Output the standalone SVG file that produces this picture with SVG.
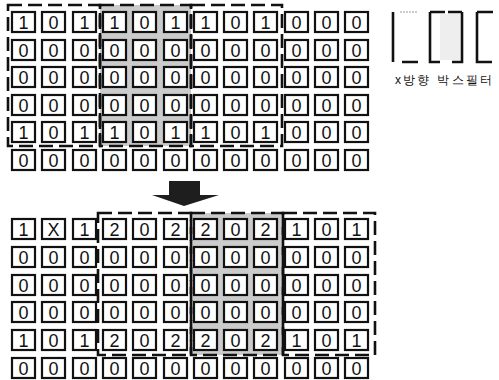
<svg xmlns="http://www.w3.org/2000/svg" width="499" height="380" viewBox="0 0 499 380">
<style>
.c{fill:#fff;stroke:#111;stroke-width:2.2}
text{font-family:"Liberation Sans",Arial,sans-serif;fill:#111}
.n{font-size:18px;text-anchor:middle}
.win{fill:none;stroke:#111;stroke-width:2.6;stroke-dasharray:14 6}
.shade{fill:#cbcbcb;stroke:#111;stroke-width:2.6;stroke-dasharray:14 6}
.k{stroke:#111;stroke-width:2.6;fill:none}
.kl{stroke:#999;stroke-width:1.2;fill:none;stroke-dasharray:2 1}
</style>
<defs>
<symbol id="cell" overflow="visible"><rect class="c" x="0" y="0" width="23" height="20"/></symbol>
</defs>
<rect width="499" height="380" fill="#fff"/>
<g id="windows">
<rect class="shade" x="100" y="5" width="91" height="141"/>
<rect class="win" x="8" y="5" width="92" height="141"/>
<rect class="win" x="191" y="5" width="91" height="141"/>
<rect class="shade" x="191" y="213" width="92" height="142"/>
<rect class="win" x="98" y="213" width="93" height="142"/>
<rect class="win" x="283" y="213" width="92" height="142"/>
</g>
<g id="top-grid">
<g id="t1">
<g transform="translate(12,12)"><use href="#cell"/><text class="n" x="11.5" y="16.5">1</text></g>
<g transform="translate(42,12)"><use href="#cell"/><text class="n" x="11.5" y="16.5">0</text></g>
<g transform="translate(73,12)"><use href="#cell"/><text class="n" x="11.5" y="16.5">1</text></g>
<g transform="translate(103,12)"><use href="#cell"/><text class="n" x="11.5" y="16.5">1</text></g>
<g transform="translate(133,12)"><use href="#cell"/><text class="n" x="11.5" y="16.5">0</text></g>
<g transform="translate(164,12)"><use href="#cell"/><text class="n" x="11.5" y="16.5">1</text></g>
<g transform="translate(194,12)"><use href="#cell"/><text class="n" x="11.5" y="16.5">1</text></g>
<g transform="translate(224,12)"><use href="#cell"/><text class="n" x="11.5" y="16.5">0</text></g>
<g transform="translate(254,12)"><use href="#cell"/><text class="n" x="11.5" y="16.5">1</text></g>
<g transform="translate(285,12)"><use href="#cell"/><text class="n" x="11.5" y="16.5">0</text></g>
<g transform="translate(315,12)"><use href="#cell"/><text class="n" x="11.5" y="16.5">0</text></g>
<g transform="translate(345,12)"><use href="#cell"/><text class="n" x="11.5" y="16.5">0</text></g>
</g>
<g id="t2">
<g transform="translate(12,40)"><use href="#cell"/><text class="n" x="11.5" y="16.5">0</text></g>
<g transform="translate(42,40)"><use href="#cell"/><text class="n" x="11.5" y="16.5">0</text></g>
<g transform="translate(73,40)"><use href="#cell"/><text class="n" x="11.5" y="16.5">0</text></g>
<g transform="translate(103,40)"><use href="#cell"/><text class="n" x="11.5" y="16.5">0</text></g>
<g transform="translate(133,40)"><use href="#cell"/><text class="n" x="11.5" y="16.5">0</text></g>
<g transform="translate(164,40)"><use href="#cell"/><text class="n" x="11.5" y="16.5">0</text></g>
<g transform="translate(194,40)"><use href="#cell"/><text class="n" x="11.5" y="16.5">0</text></g>
<g transform="translate(224,40)"><use href="#cell"/><text class="n" x="11.5" y="16.5">0</text></g>
<g transform="translate(254,40)"><use href="#cell"/><text class="n" x="11.5" y="16.5">0</text></g>
<g transform="translate(285,40)"><use href="#cell"/><text class="n" x="11.5" y="16.5">0</text></g>
<g transform="translate(315,40)"><use href="#cell"/><text class="n" x="11.5" y="16.5">0</text></g>
<g transform="translate(345,40)"><use href="#cell"/><text class="n" x="11.5" y="16.5">0</text></g>
</g>
<g id="t3">
<g transform="translate(12,67)"><use href="#cell"/><text class="n" x="11.5" y="16.5">0</text></g>
<g transform="translate(42,67)"><use href="#cell"/><text class="n" x="11.5" y="16.5">0</text></g>
<g transform="translate(73,67)"><use href="#cell"/><text class="n" x="11.5" y="16.5">0</text></g>
<g transform="translate(103,67)"><use href="#cell"/><text class="n" x="11.5" y="16.5">0</text></g>
<g transform="translate(133,67)"><use href="#cell"/><text class="n" x="11.5" y="16.5">0</text></g>
<g transform="translate(164,67)"><use href="#cell"/><text class="n" x="11.5" y="16.5">0</text></g>
<g transform="translate(194,67)"><use href="#cell"/><text class="n" x="11.5" y="16.5">0</text></g>
<g transform="translate(224,67)"><use href="#cell"/><text class="n" x="11.5" y="16.5">0</text></g>
<g transform="translate(254,67)"><use href="#cell"/><text class="n" x="11.5" y="16.5">0</text></g>
<g transform="translate(285,67)"><use href="#cell"/><text class="n" x="11.5" y="16.5">0</text></g>
<g transform="translate(315,67)"><use href="#cell"/><text class="n" x="11.5" y="16.5">0</text></g>
<g transform="translate(345,67)"><use href="#cell"/><text class="n" x="11.5" y="16.5">0</text></g>
</g>
<g id="t4">
<g transform="translate(12,95)"><use href="#cell"/><text class="n" x="11.5" y="16.5">0</text></g>
<g transform="translate(42,95)"><use href="#cell"/><text class="n" x="11.5" y="16.5">0</text></g>
<g transform="translate(73,95)"><use href="#cell"/><text class="n" x="11.5" y="16.5">0</text></g>
<g transform="translate(103,95)"><use href="#cell"/><text class="n" x="11.5" y="16.5">0</text></g>
<g transform="translate(133,95)"><use href="#cell"/><text class="n" x="11.5" y="16.5">0</text></g>
<g transform="translate(164,95)"><use href="#cell"/><text class="n" x="11.5" y="16.5">0</text></g>
<g transform="translate(194,95)"><use href="#cell"/><text class="n" x="11.5" y="16.5">0</text></g>
<g transform="translate(224,95)"><use href="#cell"/><text class="n" x="11.5" y="16.5">0</text></g>
<g transform="translate(254,95)"><use href="#cell"/><text class="n" x="11.5" y="16.5">0</text></g>
<g transform="translate(285,95)"><use href="#cell"/><text class="n" x="11.5" y="16.5">0</text></g>
<g transform="translate(315,95)"><use href="#cell"/><text class="n" x="11.5" y="16.5">0</text></g>
<g transform="translate(345,95)"><use href="#cell"/><text class="n" x="11.5" y="16.5">0</text></g>
</g>
<g id="t5">
<g transform="translate(12,122)"><use href="#cell"/><text class="n" x="11.5" y="16.5">1</text></g>
<g transform="translate(42,122)"><use href="#cell"/><text class="n" x="11.5" y="16.5">0</text></g>
<g transform="translate(73,122)"><use href="#cell"/><text class="n" x="11.5" y="16.5">1</text></g>
<g transform="translate(103,122)"><use href="#cell"/><text class="n" x="11.5" y="16.5">1</text></g>
<g transform="translate(133,122)"><use href="#cell"/><text class="n" x="11.5" y="16.5">0</text></g>
<g transform="translate(164,122)"><use href="#cell"/><text class="n" x="11.5" y="16.5">1</text></g>
<g transform="translate(194,122)"><use href="#cell"/><text class="n" x="11.5" y="16.5">1</text></g>
<g transform="translate(224,122)"><use href="#cell"/><text class="n" x="11.5" y="16.5">0</text></g>
<g transform="translate(254,122)"><use href="#cell"/><text class="n" x="11.5" y="16.5">1</text></g>
<g transform="translate(285,122)"><use href="#cell"/><text class="n" x="11.5" y="16.5">0</text></g>
<g transform="translate(315,122)"><use href="#cell"/><text class="n" x="11.5" y="16.5">0</text></g>
<g transform="translate(345,122)"><use href="#cell"/><text class="n" x="11.5" y="16.5">0</text></g>
</g>
<g id="t6">
<g transform="translate(12,150)"><use href="#cell"/><text class="n" x="11.5" y="16.5">0</text></g>
<g transform="translate(42,150)"><use href="#cell"/><text class="n" x="11.5" y="16.5">0</text></g>
<g transform="translate(73,150)"><use href="#cell"/><text class="n" x="11.5" y="16.5">0</text></g>
<g transform="translate(103,150)"><use href="#cell"/><text class="n" x="11.5" y="16.5">0</text></g>
<g transform="translate(133,150)"><use href="#cell"/><text class="n" x="11.5" y="16.5">0</text></g>
<g transform="translate(164,150)"><use href="#cell"/><text class="n" x="11.5" y="16.5">0</text></g>
<g transform="translate(194,150)"><use href="#cell"/><text class="n" x="11.5" y="16.5">0</text></g>
<g transform="translate(224,150)"><use href="#cell"/><text class="n" x="11.5" y="16.5">0</text></g>
<g transform="translate(254,150)"><use href="#cell"/><text class="n" x="11.5" y="16.5">0</text></g>
<g transform="translate(285,150)"><use href="#cell"/><text class="n" x="11.5" y="16.5">0</text></g>
<g transform="translate(315,150)"><use href="#cell"/><text class="n" x="11.5" y="16.5">0</text></g>
<g transform="translate(345,150)"><use href="#cell"/><text class="n" x="11.5" y="16.5">0</text></g>
</g>
</g>
<g id="connectors">
<polygon id="arrow" points="169,181 200,181 200,195 219,195 184,206 152,195 169,195" fill="#1e1e1e"/>
</g>
<g id="bottom-grid">
<g id="b1">
<g transform="translate(12,219)"><use href="#cell"/><text class="n" x="11.5" y="16.5">1</text></g>
<g transform="translate(42,219)"><use href="#cell"/><text class="n" x="11.5" y="16.5">X</text></g>
<g transform="translate(73,219)"><use href="#cell"/><text class="n" x="11.5" y="16.5">1</text></g>
<g transform="translate(103,219)"><use href="#cell"/><text class="n" x="11.5" y="16.5">2</text></g>
<g transform="translate(133,219)"><use href="#cell"/><text class="n" x="11.5" y="16.5">0</text></g>
<g transform="translate(164,219)"><use href="#cell"/><text class="n" x="11.5" y="16.5">2</text></g>
<g transform="translate(194,219)"><use href="#cell"/><text class="n" x="11.5" y="16.5">2</text></g>
<g transform="translate(224,219)"><use href="#cell"/><text class="n" x="11.5" y="16.5">0</text></g>
<g transform="translate(254,219)"><use href="#cell"/><text class="n" x="11.5" y="16.5">2</text></g>
<g transform="translate(285,219)"><use href="#cell"/><text class="n" x="11.5" y="16.5">1</text></g>
<g transform="translate(315,219)"><use href="#cell"/><text class="n" x="11.5" y="16.5">0</text></g>
<g transform="translate(345,219)"><use href="#cell"/><text class="n" x="11.5" y="16.5">1</text></g>
</g>
<g id="b2">
<g transform="translate(12,247)"><use href="#cell"/><text class="n" x="11.5" y="16.5">0</text></g>
<g transform="translate(42,247)"><use href="#cell"/><text class="n" x="11.5" y="16.5">0</text></g>
<g transform="translate(73,247)"><use href="#cell"/><text class="n" x="11.5" y="16.5">0</text></g>
<g transform="translate(103,247)"><use href="#cell"/><text class="n" x="11.5" y="16.5">0</text></g>
<g transform="translate(133,247)"><use href="#cell"/><text class="n" x="11.5" y="16.5">0</text></g>
<g transform="translate(164,247)"><use href="#cell"/><text class="n" x="11.5" y="16.5">0</text></g>
<g transform="translate(194,247)"><use href="#cell"/><text class="n" x="11.5" y="16.5">0</text></g>
<g transform="translate(224,247)"><use href="#cell"/><text class="n" x="11.5" y="16.5">0</text></g>
<g transform="translate(254,247)"><use href="#cell"/><text class="n" x="11.5" y="16.5">0</text></g>
<g transform="translate(285,247)"><use href="#cell"/><text class="n" x="11.5" y="16.5">0</text></g>
<g transform="translate(315,247)"><use href="#cell"/><text class="n" x="11.5" y="16.5">0</text></g>
<g transform="translate(345,247)"><use href="#cell"/><text class="n" x="11.5" y="16.5">0</text></g>
</g>
<g id="b3">
<g transform="translate(12,275)"><use href="#cell"/><text class="n" x="11.5" y="16.5">0</text></g>
<g transform="translate(42,275)"><use href="#cell"/><text class="n" x="11.5" y="16.5">0</text></g>
<g transform="translate(73,275)"><use href="#cell"/><text class="n" x="11.5" y="16.5">0</text></g>
<g transform="translate(103,275)"><use href="#cell"/><text class="n" x="11.5" y="16.5">0</text></g>
<g transform="translate(133,275)"><use href="#cell"/><text class="n" x="11.5" y="16.5">0</text></g>
<g transform="translate(164,275)"><use href="#cell"/><text class="n" x="11.5" y="16.5">0</text></g>
<g transform="translate(194,275)"><use href="#cell"/><text class="n" x="11.5" y="16.5">0</text></g>
<g transform="translate(224,275)"><use href="#cell"/><text class="n" x="11.5" y="16.5">0</text></g>
<g transform="translate(254,275)"><use href="#cell"/><text class="n" x="11.5" y="16.5">0</text></g>
<g transform="translate(285,275)"><use href="#cell"/><text class="n" x="11.5" y="16.5">0</text></g>
<g transform="translate(315,275)"><use href="#cell"/><text class="n" x="11.5" y="16.5">0</text></g>
<g transform="translate(345,275)"><use href="#cell"/><text class="n" x="11.5" y="16.5">0</text></g>
</g>
<g id="b4">
<g transform="translate(12,302)"><use href="#cell"/><text class="n" x="11.5" y="16.5">0</text></g>
<g transform="translate(42,302)"><use href="#cell"/><text class="n" x="11.5" y="16.5">0</text></g>
<g transform="translate(73,302)"><use href="#cell"/><text class="n" x="11.5" y="16.5">0</text></g>
<g transform="translate(103,302)"><use href="#cell"/><text class="n" x="11.5" y="16.5">0</text></g>
<g transform="translate(133,302)"><use href="#cell"/><text class="n" x="11.5" y="16.5">0</text></g>
<g transform="translate(164,302)"><use href="#cell"/><text class="n" x="11.5" y="16.5">0</text></g>
<g transform="translate(194,302)"><use href="#cell"/><text class="n" x="11.5" y="16.5">0</text></g>
<g transform="translate(224,302)"><use href="#cell"/><text class="n" x="11.5" y="16.5">0</text></g>
<g transform="translate(254,302)"><use href="#cell"/><text class="n" x="11.5" y="16.5">0</text></g>
<g transform="translate(285,302)"><use href="#cell"/><text class="n" x="11.5" y="16.5">0</text></g>
<g transform="translate(315,302)"><use href="#cell"/><text class="n" x="11.5" y="16.5">0</text></g>
<g transform="translate(345,302)"><use href="#cell"/><text class="n" x="11.5" y="16.5">0</text></g>
</g>
<g id="b5">
<g transform="translate(12,330)"><use href="#cell"/><text class="n" x="11.5" y="16.5">1</text></g>
<g transform="translate(42,330)"><use href="#cell"/><text class="n" x="11.5" y="16.5">0</text></g>
<g transform="translate(73,330)"><use href="#cell"/><text class="n" x="11.5" y="16.5">1</text></g>
<g transform="translate(103,330)"><use href="#cell"/><text class="n" x="11.5" y="16.5">2</text></g>
<g transform="translate(133,330)"><use href="#cell"/><text class="n" x="11.5" y="16.5">0</text></g>
<g transform="translate(164,330)"><use href="#cell"/><text class="n" x="11.5" y="16.5">2</text></g>
<g transform="translate(194,330)"><use href="#cell"/><text class="n" x="11.5" y="16.5">2</text></g>
<g transform="translate(224,330)"><use href="#cell"/><text class="n" x="11.5" y="16.5">0</text></g>
<g transform="translate(254,330)"><use href="#cell"/><text class="n" x="11.5" y="16.5">2</text></g>
<g transform="translate(285,330)"><use href="#cell"/><text class="n" x="11.5" y="16.5">1</text></g>
<g transform="translate(315,330)"><use href="#cell"/><text class="n" x="11.5" y="16.5">0</text></g>
<g transform="translate(345,330)"><use href="#cell"/><text class="n" x="11.5" y="16.5">1</text></g>
</g>
<g id="b6">
<g transform="translate(12,358)"><use href="#cell"/><text class="n" x="11.5" y="16.5">0</text></g>
<g transform="translate(42,358)"><use href="#cell"/><text class="n" x="11.5" y="16.5">0</text></g>
<g transform="translate(73,358)"><use href="#cell"/><text class="n" x="11.5" y="16.5">0</text></g>
<g transform="translate(103,358)"><use href="#cell"/><text class="n" x="11.5" y="16.5">0</text></g>
<g transform="translate(133,358)"><use href="#cell"/><text class="n" x="11.5" y="16.5">0</text></g>
<g transform="translate(164,358)"><use href="#cell"/><text class="n" x="11.5" y="16.5">0</text></g>
<g transform="translate(194,358)"><use href="#cell"/><text class="n" x="11.5" y="16.5">0</text></g>
<g transform="translate(224,358)"><use href="#cell"/><text class="n" x="11.5" y="16.5">0</text></g>
<g transform="translate(254,358)"><use href="#cell"/><text class="n" x="11.5" y="16.5">0</text></g>
<g transform="translate(285,358)"><use href="#cell"/><text class="n" x="11.5" y="16.5">0</text></g>
<g transform="translate(315,358)"><use href="#cell"/><text class="n" x="11.5" y="16.5">0</text></g>
<g transform="translate(345,358)"><use href="#cell"/><text class="n" x="11.5" y="16.5">0</text></g>
</g>
</g>
<g id="filter-legend">
<rect x="440" y="14" width="20" height="46" fill="#eee"/>
<path class="k" d="M393,12 V62 M402,62 H418 M430,12 V62 H440 M430,12 H445 M462,12 V62 H452 M448,12 H462 M477,12 V62 H492 M477,12 H493"/>
<path class="kl" d="M400,12 H417"/>
<text x="395" y="84" font-size="12" textLength="97" lengthAdjust="spacing" font-family="'Noto Sans CJK KR',sans-serif">x방향 박스필터</text>
</g>
</svg>
